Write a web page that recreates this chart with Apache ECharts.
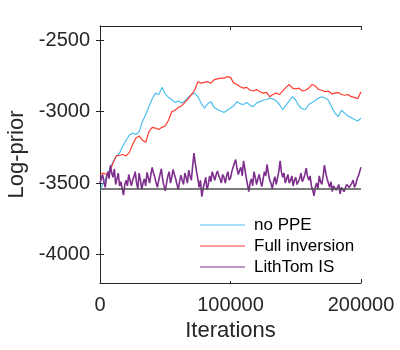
<html lang="en">
<head>
  <meta charset="utf-8">
  <title>Log-prior traces</title>
  <script src="https://cdn.jsdelivr.net/npm/echarts@6/dist/echarts.min.js"></script>
</head>
<body style="margin:0;background:#fff;">
  <div id="main" style="width: 400px;height:350px;"></div>
</body>
<script>
  // iterations for the smooth-ish chains (step 2500) and the noisy one (step 1000)
  var itersA = [];
  for (var i = 0; i <= 80; i++) itersA.push(i * 2500);
  var itersB = [];
  for (var i = 0; i <= 200; i++) itersB.push(i * 1000);

  var noPPE = [-3550, -3500, -3455, -3400, -3350, -3310, -3290, -3240, -3200, -3165,
    -3150, -3160, -3140, -3070, -3020, -2965, -2910, -2870, -2880, -2830,
    -2875, -2900, -2915, -2935, -2925, -2940, -2925, -2900, -2880, -2870,
    -2895, -2940, -2975, -2945, -2930, -2970, -2985, -2995, -3005, -2990,
    -2975, -2960, -2930, -2945, -2950, -2935, -2955, -2965, -2940, -2930,
    -2920, -2915, -2905, -2910, -2925, -2950, -2985, -2955, -2925, -2895,
    -2920, -2960, -2980, -2985, -2950, -2935, -2920, -2905, -2895, -2905,
    -2920, -2965, -3010, -3035, -2990, -3010, -3030, -3040, -3055, -3065,
    -3045];

  var fullInv = [-3440, -3430, -3440, -3420, -3360, -3310, -3305, -3300, -3310, -3285,
    -3230, -3185, -3170, -3200, -3215, -3140, -3110, -3115, -3125, -3110,
    -3100, -3060, -3000, -2990, -2970, -2960, -2935, -2910, -2880, -2850,
    -2790, -2800, -2795, -2790, -2800, -2775, -2770, -2765, -2765, -2755,
    -2760, -2800, -2810, -2825, -2835, -2830, -2850, -2855, -2845, -2860,
    -2870, -2865, -2895, -2880, -2870, -2880, -2855, -2830, -2810, -2835,
    -2840, -2835, -2855, -2850, -2835, -2810, -2820, -2845, -2850, -2860,
    -2855, -2875, -2870, -2865, -2880, -2885, -2880, -2895, -2900, -2910,
    -2860];

  var lithTom = [-3500, -3470, -3440, -3490, -3530, -3460, -3420, -3470, -3375, -3430,
    -3460, -3400, -3510, -3470, -3430, -3520, -3490, -3540, -3585, -3510,
    -3480, -3520, -3440, -3480, -3520, -3480, -3455, -3420, -3500, -3540,
    -3430, -3480, -3545, -3500, -3470, -3520, -3425, -3460, -3500, -3440,
    -3390, -3430, -3460, -3500, -3530, -3480, -3440, -3400, -3475, -3520,
    -3555, -3500, -3450, -3420, -3500, -3460, -3405, -3440, -3470, -3510,
    -3545, -3490, -3445, -3480, -3510, -3430, -3460, -3500, -3410, -3450,
    -3480, -3380, -3290, -3360, -3420, -3470, -3530, -3480, -3595, -3540,
    -3500, -3460, -3545, -3510, -3450, -3490, -3420, -3450, -3480, -3440,
    -3415, -3450, -3470, -3500, -3440, -3460, -3500, -3450, -3420, -3480,
    -3465, -3420, -3390, -3360, -3335, -3400, -3440, -3410, -3390, -3450,
    -3345, -3400, -3460, -3510, -3560, -3500, -3470, -3520, -3420, -3460,
    -3510, -3470, -3440, -3490, -3525, -3470, -3420, -3450, -3370, -3430,
    -3480, -3500, -3540, -3490, -3455, -3510, -3505, -3420, -3345, -3420,
    -3460, -3430, -3500, -3470, -3440, -3500, -3480, -3450, -3520, -3480,
    -3460, -3510, -3500, -3470, -3430, -3490, -3470, -3440, -3395, -3450,
    -3480, -3450, -3520, -3550, -3590, -3530, -3500, -3540, -3450, -3490,
    -3510, -3450, -3375, -3430, -3470, -3500, -3530, -3490, -3560, -3520,
    -3510, -3550, -3545, -3510, -3575, -3530, -3520, -3560, -3555, -3510,
    -3500, -3530, -3540, -3500, -3480, -3530, -3510, -3470, -3450, -3420,
    -3390];

  var refLevel = -3540;
  var yTicks = [-4000, -3500, -3000, -2500];

  function pairs(xs, ys) {
    var out = [];
    for (var i = 0; i < ys.length; i++) out.push([xs[i], ys[i]]);
    return out;
  }
  function plain(v) { return String(v); } // no thousands separators

  var font = '"Liberation Sans", Arial, sans-serif';
  var ink = '#262626';

  var myChart = echarts.init(document.getElementById('main'));
  myChart.setOption({
    animation: false,
    textStyle: { fontFamily: font },
    grid: { left: 100, right: 39, top: 26, bottom: 67, outerBoundsMode: 'none' },
    legend: {
      orient: 'vertical',
      left: 196,
      top: 212,
      padding: [3, 6, 4, 4],
      backgroundColor: '#fff',
      icon: 'rect',
      itemWidth: 45,
      itemHeight: 1.2,
      itemGap: 1,
      textStyle: { fontSize: 17, lineHeight: 20, color: '#000', fontFamily: font, padding: [0, 0, 0, 4] },
      data: ['no PPE', 'Full inversion', 'LithTom IS']
    },
    xAxis: [
      {
        type: 'value', min: 0, max: 200000, interval: 100000,
        name: 'Iterations', nameLocation: 'middle', nameGap: 35,
        nameTextStyle: { fontSize: 22, color: ink },
        axisLine: { lineStyle: { color: ink } },
        axisTick: { inside: true, length: 4 },
        axisLabel: { fontSize: 20, color: ink, margin: 12, formatter: plain },
        splitLine: { show: false }
      },
      {
        type: 'value', position: 'top', min: 0, max: 200000, interval: 100000,
        axisLine: { lineStyle: { color: ink } },
        axisTick: { inside: true, length: 4 },
        axisLabel: { show: false },
        splitLine: { show: false }
      }
    ],
    yAxis: [
      {
        type: 'value', min: -4200, max: -2400,
        name: 'Log-prior', nameLocation: 'middle', nameGap: 72,
        nameTextStyle: { fontSize: 22, color: ink },
        axisLine: { show: true, lineStyle: { color: ink } },
        axisTick: { inside: true, length: 4, customValues: yTicks },
        axisLabel: { fontSize: 20, color: ink, margin: 10, customValues: yTicks, formatter: plain },
        splitLine: { show: false }
      },
      {
        type: 'value', position: 'right', min: -4200, max: -2400,
        axisLine: { show: true, lineStyle: { color: ink } },
        axisTick: { inside: true, length: 4, customValues: yTicks },
        axisLabel: { show: false },
        splitLine: { show: false }
      }
    ],
    series: [
      {
        name: 'no PPE', type: 'line', symbol: 'none',
        data: pairs(itersA, noPPE),
        lineStyle: { color: '#4DBEEE', width: 1.2 }, itemStyle: { color: '#4DBEEE' }
      },
      {
        name: 'Full inversion', type: 'line', symbol: 'none',
        data: pairs(itersA, fullInv),
        lineStyle: { color: '#FF3B2F', width: 1.2 }, itemStyle: { color: '#FF3B2F' }
      },
      {
        name: 'LithTom IS', type: 'line', symbol: 'none',
        data: pairs(itersB, lithTom),
        lineStyle: { color: '#7E2F8E', width: 1.6 }, itemStyle: { color: '#7E2F8E' },
        markLine: {
          silent: true, symbol: 'none', label: { show: false },
          lineStyle: { color: '#505050', width: 1.6, type: 'solid' },
          data: [{ yAxis: refLevel }]
        }
      }
    ]
  });
</script>
</html>
